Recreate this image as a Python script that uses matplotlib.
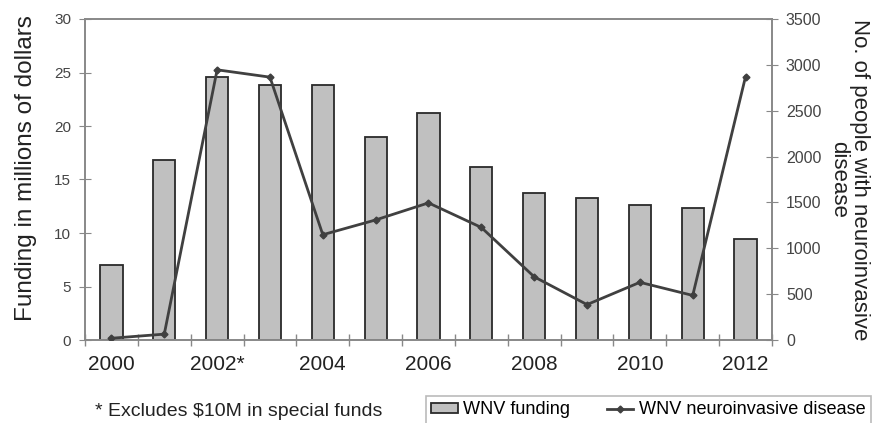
import numpy as np
import matplotlib
matplotlib.use('Agg')
import matplotlib.pyplot as plt

matplotlib.rcParams['font.family'] = ['Liberation Sans', 'DejaVu Sans']

years = ['2000', '2001', '2002*', '2003', '2004', '2005', '2006',
         '2007', '2008', '2009', '2010', '2011', '2012']
funding = [7.0, 16.8, 24.6, 23.8, 23.8, 19.0, 21.2,
           16.2, 13.7, 13.3, 12.6, 12.3, 9.4]
cases = [19, 64, 2946, 2866, 1148, 1309, 1495,
         1227, 689, 386, 629, 486, 2873]

fig = plt.figure(figsize=(8.79, 4.23), dpi=100)
ax = fig.add_axes([85 / 879, 83 / 423, 687 / 879, 321 / 423])
ax2 = ax.twinx()

x = np.arange(len(years))
bars = ax.bar(x, funding, width=0.42, color='#c0c0c0', edgecolor='#2a2a2a',
              linewidth=1.3, label='WNV funding', zorder=2)
line, = ax2.plot(x, cases, color='#404040', linewidth=2, marker='D',
                 markersize=3.5, label='WNV neuroinvasive disease', zorder=3)

ax.set_xlim(-0.5, len(years) - 0.5)
ax.set_ylim(0, 30)
ax2.set_ylim(0, 3500)
ax.set_yticks(range(0, 31, 5))
ax2.set_yticks(range(0, 3501, 500))

# labels every other year, ticks on category boundaries
ax.set_xticks(x[::2])
ax.set_xticklabels(years[::2], fontsize=15, color='#222222')
ax.set_xticks(np.arange(-0.5, len(years), 1), minor=True)
ax.tick_params(axis='x', which='major', length=0, pad=11)
ax.tick_params(axis='x', which='minor', direction='inout', length=9,
               color='#888888', width=1)
ax.tick_params(axis='y', direction='inout', length=8, color='#888888',
               labelsize=11, labelcolor='#444444', pad=6)
ax2.tick_params(axis='y', direction='inout', length=8, color='#888888',
                labelsize=11.5, labelcolor='#444444', pad=6)

for a in (ax, ax2):
    for s in a.spines.values():
        s.set_color('#888888')
        s.set_linewidth(1.2)

ax.set_ylabel('Funding in millions of dollars', fontsize=17.5, color='#222222')
ax.yaxis.set_label_coords(-0.07, 0.535)
ax2.set_ylabel('No. of people with neuroinvasive\ndisease', fontsize=16,
               color='#222222', rotation=-90, labelpad=35, linespacing=1.0)

fig.text(95 / 879, 1 - 411 / 423, '* Excludes $10M in special funds',
         fontsize=14, color='#222222', va='center')

leg = fig.legend(handles=[bars, line], loc='upper left', ncol=2,
                 bbox_to_anchor=(426 / 879, 1 - 396 / 423), fontsize=13.1,
                 frameon=True, fancybox=False, edgecolor='#aaaaaa',
                 handlelength=1.45, handleheight=0.45, handletextpad=0.3,
                 columnspacing=2.0, borderpad=0.3, borderaxespad=0)
leg.get_frame().set_linewidth(1.2)

fig.savefig('out.png', dpi=100)
